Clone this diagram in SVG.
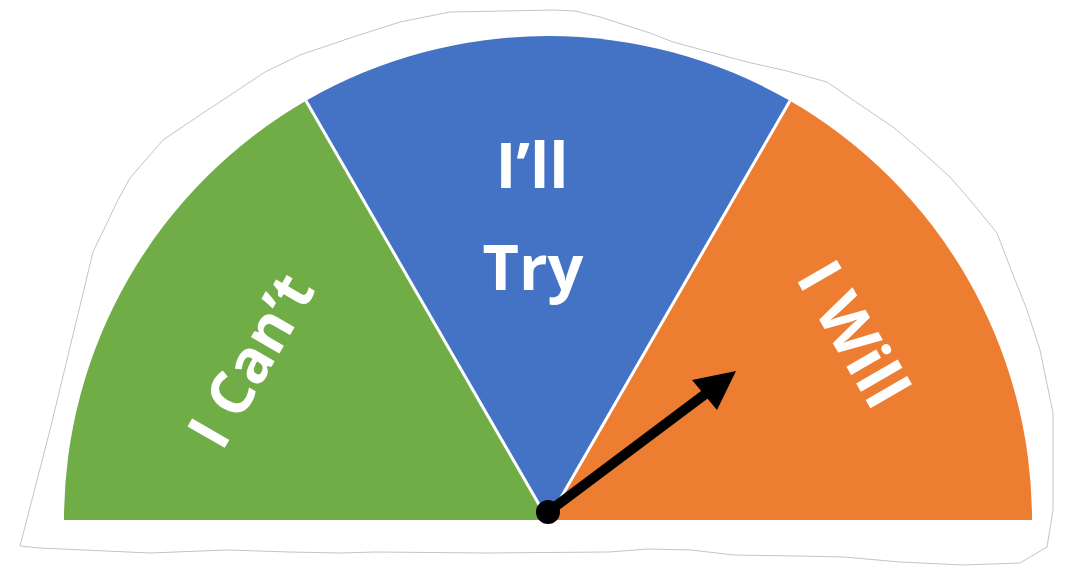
<svg xmlns="http://www.w3.org/2000/svg" width="1066" height="573" viewBox="0 0 1066 573">
  <style>
    .lbl { font-family: "Open Sans", "Liberation Sans", sans-serif; font-weight: bold; font-size: 63px; fill: #ffffff; text-anchor: middle; }
    .sep { stroke: #ffffff; stroke-width: 3; fill: none; }
    .sticker { fill: #ffffff; stroke: #c4c4c4; stroke-width: 1; }
  </style>
  <rect x="0" y="0" width="1066" height="573" fill="#ffffff"/>
  <path class="sticker" d="M20,546 L50,430 L93,252 L118,200 L130,178 L163,140 L200,115 L235,92 L265,72 L300,55 L350,38 L400,22 L450,12 L503,11 L553,10 L575,11 L600,17 L650,33 L673,42 L747,62 L787,71 L827,82 L853,100 L893,127 L920,150 L950,177 L970,200 L997,233 L1010,267 L1027,310 L1040,350 L1053,413 L1053,510 L1047,547 L1020,563 L963,565 L900,562 L844,557 L796,556 L734,555 L691,550 L648,549 L609,552 L485,553 L375,552 L341,553 L289,552 L227,550 L150,553 L40,548 Z"/>
  <g id="sector-cant">
    <path d="M548,520 L64,520 A484,484 0 0 1 306,100.84 Z" fill="#70AD47"/>
    <text class="lbl" transform="translate(250,360) rotate(-60)" y="22" style="font-size:60px">I Can’t</text>
  </g>
  <g id="sector-try">
    <path d="M548,520 L306,100.84 A484,484 0 0 1 790,100.84 Z" fill="#4472C4"/>
    <text class="lbl" x="532" y="188">I’ll</text>
    <text class="lbl" x="533" y="290">Try</text>
  </g>
  <g id="sector-will">
    <path d="M548,520 L790,100.84 A484,484 0 0 1 1032,520 Z" fill="#ED7D31"/>
    <text class="lbl" transform="translate(853,334) rotate(60)" y="22">I Will</text>
  </g>
  <g id="connectors">
    <line class="sep" x1="548" y1="520" x2="306" y2="100.84"/>
    <line class="sep" x1="548" y1="520" x2="790" y2="100.84"/>
  </g>
  <g id="needle">
    <line x1="548" y1="512" x2="708" y2="392" stroke="#000000" stroke-width="10"/>
    <polygon points="736,371 692,380 717,410" fill="#000000"/>
    <circle cx="548" cy="512" r="12" fill="#000000"/>
  </g>
</svg>
